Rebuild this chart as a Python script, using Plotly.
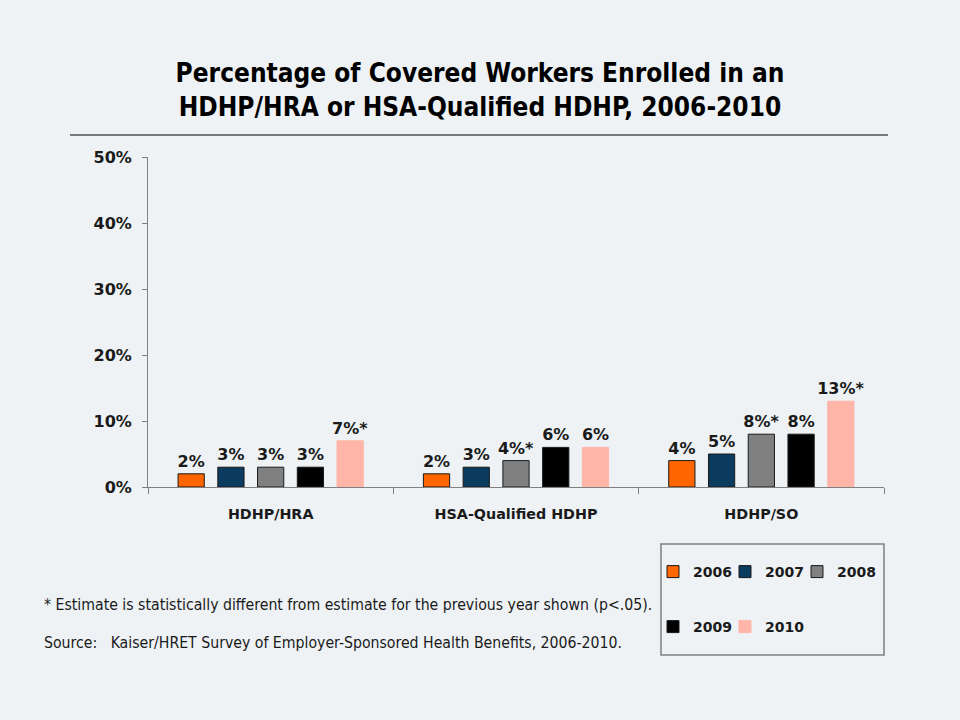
import plotly.graph_objects as go

categories = ["HDHP/HRA", "HSA-Qualified HDHP", "HDHP/SO"]
years = ["2006", "2007", "2008", "2009", "2010"]
values = {
    "2006": [2, 2, 4],
    "2007": [3, 3, 5],
    "2008": [3, 4, 8],
    "2009": [3, 6, 8],
    "2010": [7, 6, 13],
}
labels = {
    "2006": ["2%", "2%", "4%"],
    "2007": ["3%", "3%", "5%"],
    "2008": ["3%", "4%*", "8%*"],
    "2009": ["3%", "6%", "8%"],
    "2010": ["7%*", "6%", "13%*"],
}
colors = {
    "2006": "#FF6600",
    "2007": "#0B3B5E",
    "2008": "#808080",
    "2009": "#000000",
    "2010": "#FFB5A8",
}
y_ticks = [0, 10, 20, 30, 40, 50]
y_ticklabels = ["0%", "10%", "20%", "30%", "40%", "50%"]

BG = "#EEF2F5"
BOLD = "DejaVu Sans, Verdana, sans-serif"

# plot-area pixel geometry (for converting page positions to paper coords)
L, R, T, B = 148, 884, 157, 487
PW, PH = R - L, B - T


def px(x):
    return (x - L) / PW


def py(y):
    return (B - y) / PH


# legend placement: (legend id, symbol centre x, row y)
legend_pos = {
    "2006": ("legend", 673, 572),
    "2007": ("legend2", 745, 572),
    "2008": ("legend3", 817, 572),
    "2009": ("legend4", 673, 627),
    "2010": ("legend5", 745, 627),
}

fig = go.Figure()
for yr in years:
    outline = "#1a1a1a" if yr != "2010" else colors[yr]
    fig.add_trace(go.Bar(
        name=yr,
        x=categories,
        y=values[yr],
        text=labels[yr],
        textposition="outside",
        constraintext="none",
        cliponaxis=False,
        textfont=dict(family=BOLD, size=16, color="#1a1a1a", weight="bold"),
        marker=dict(color=colors[yr], line=dict(color=outline, width=1)),
        legend=legend_pos[yr][0],
    ))

legend_layouts = {}
for yr in years:
    lid, sx, ty = legend_pos[yr]
    legend_layouts[lid] = dict(
        orientation="h", x=px(sx - 20), y=py(ty),
        xanchor="left", yanchor="middle",
        bgcolor="rgba(0,0,0,0)", borderwidth=0,
        font=dict(family=BOLD, size=14, color="#1a1a1a", weight="bold"),
    )

fig.update_layout(
    width=960, height=720,
    paper_bgcolor=BG, plot_bgcolor=BG,
    margin=dict(l=L, r=960 - R, t=T, b=720 - B),
    barmode="group",
    bargap=0.19,
    bargroupgap=0.34,
    showlegend=True,
    title=dict(
        text="Percentage of Covered Workers Enrolled in an<br>HDHP/HRA or HSA-Qualified HDHP, 2006-2010",
        x=0.5, xref="container", xanchor="center",
        y=1 - 82 / 720, yref="container", yanchor="middle",
        font=dict(family="DejaVu Sans Condensed, DejaVu Sans, sans-serif", size=26,
                  color="#000000", weight="bold"),
    ),
    xaxis=dict(
        showline=True, linecolor="#808080", linewidth=1,
        ticks="outside", tickson="boundaries", ticklen=6, tickcolor="#808080",
        ticklabelstandoff=14,
        tickfont=dict(family=BOLD, size=14.3, color="#1a1a1a", weight="bold"),
        showgrid=False, zeroline=False,
    ),
    yaxis=dict(
        range=[0, 50], tickvals=y_ticks, ticktext=y_ticklabels,
        showline=True, linecolor="#808080", linewidth=1,
        ticks="outside", ticklen=5, tickcolor="#808080",
        ticklabelstandoff=7,
        tickfont=dict(family=BOLD, size=16, color="#1a1a1a", weight="bold"),
        showgrid=False, zeroline=False,
    ),
    **legend_layouts,
)

# title underline
fig.add_shape(type="line", xref="paper", yref="paper",
              x0=px(70), x1=px(888), y0=py(135), y1=py(135),
              line=dict(color="#000000", width=1))
# legend box
fig.add_shape(type="rect", xref="paper", yref="paper",
              x0=px(661), x1=px(884), y0=py(544), y1=py(655),
              line=dict(color="#7f7f7f", width=1.5), fillcolor="rgba(0,0,0,0)")

NARROW = "DejaVu Sans Condensed, Liberation Sans Narrow, sans-serif"
fig.add_annotation(text="* Estimate is statistically different from estimate for the previous year shown (p<.05).",
                   xref="paper", yref="paper", x=px(42), y=py(604),
                   xanchor="left", yanchor="middle", showarrow=False,
                   font=dict(family=NARROW, size=15.7, color="#1a1a1a"))
fig.add_annotation(text="Source:\u00a0\u00a0 Kaiser/HRET Survey of Employer-Sponsored Health Benefits, 2006-2010.",
                   xref="paper", yref="paper", x=px(42), y=py(642),
                   xanchor="left", yanchor="middle", showarrow=False,
                   font=dict(family=NARROW, size=15.7, color="#1a1a1a"))

fig.write_html("out.html",
               config={"displayModeBar": False},
               post_script="document.body.style.margin='0';document.body.style.background='%s';" % BG)
